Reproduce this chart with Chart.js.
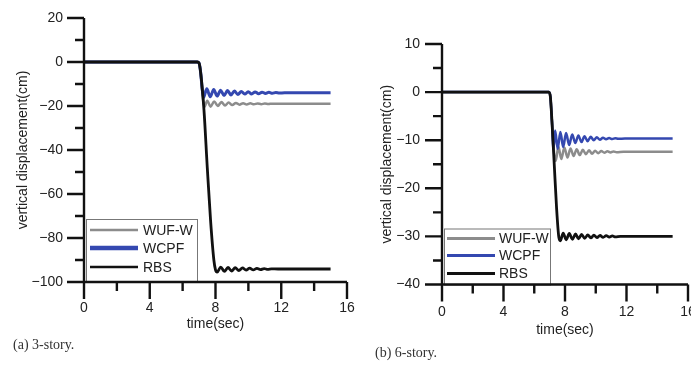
<!DOCTYPE html>
<html>
<head>
<meta charset="utf-8">
<script src="https://cdn.jsdelivr.net/npm/chart.js@4.4.1/dist/chart.umd.min.js"></script>
<style>
  body { margin: 0; background: #fff; width: 691px; height: 365px; position: relative; overflow: hidden; }
  canvas { position: absolute; top: 0; }
  #story3 { left: 0; }
  #story6 { left: 345px; }
  .caption { position: absolute; font-family: "Liberation Serif", serif; font-size: 14px; line-height: 14px; color: #333; white-space: nowrap; }
</style>
</head>
<body>
<canvas id="story3" width="380" height="365"></canvas>
<canvas id="story6" width="346" height="365"></canvas>
<div class="caption" style="left:13px; top:338px">(a) 3-story.</div>
<div class="caption" style="left:375px; top:346px">(b) 6-story.</div>
<script>
// series names, legend order
const seriesLabels = ["WUF-W", "WCPF", "RBS"];

// (a) 3-story, time in sec / vertical displacement in cm
const wufw3Time = [0, 6.9, 7.0, 7.1, 7.2, 7.32, 7.5, 7.7, 7.92, 8.14, 8.36, 8.58, 8.8, 9.02, 9.24, 9.46, 9.68, 9.9, 10.12, 10.34, 10.56, 10.78, 11.0, 11.22, 11.44, 11.8, 15.0];
const wufw3Disp = [0, 0, -0.5, -5, -14, -20.5, -17.6, -20.3, -17.9, -20, -18.2, -19.8, -18.4, -19.6, -18.6, -19.4, -18.7, -19.3, -18.8, -19.2, -18.85, -19.15, -18.9, -19.1, -18.95, -19, -19];
const wcpf3Time = [0, 6.9, 7.0, 7.1, 7.18, 7.27, 7.47, 7.68, 7.89, 8.1, 8.31, 8.52, 8.73, 8.94, 9.15, 9.36, 9.57, 9.78, 9.99, 10.2, 10.41, 10.62, 10.83, 11.04, 11.25, 11.46, 11.67, 11.88, 12.2, 15.0];
const wcpf3Disp = [0, 0, -0.5, -5, -11.5, -16.2, -12.2, -15.8, -12.5, -15.5, -12.8, -15.2, -13.0, -15.0, -13.2, -14.8, -13.4, -14.6, -13.5, -14.5, -13.6, -14.4, -13.7, -14.3, -13.8, -14.2, -13.9, -14.1, -14, -14];
const rbs3Time = [0, 6.9, 7.0, 7.1, 7.3, 7.5, 7.7, 7.9, 8.0, 8.1, 8.32, 8.54, 8.76, 8.98, 9.2, 9.42, 9.64, 9.86, 10.08, 10.3, 10.52, 10.74, 10.96, 11.18, 11.4, 11.8, 15.0];
const rbs3Disp = [0, 0, -0.5, -5, -22, -48, -72, -90, -94.5, -95.5, -93.2, -95.2, -93.4, -95, -93.5, -94.8, -93.6, -94.6, -93.7, -94.5, -93.8, -94.4, -93.9, -94.3, -94, -94.1, -94.1];

// (b) 6-story
const wufw6Time = [0, 6.95, 7.05, 7.15, 7.3, 7.4, 7.57, 7.76, 7.96, 8.16, 8.36, 8.56, 8.76, 8.96, 9.16, 9.36, 9.56, 9.76, 9.96, 10.16, 10.36, 10.56, 10.76, 10.96, 11.16, 11.36, 11.8, 15.0];
const wufw6Disp = [0, 0, -1, -6, -13, -14.3, -11.3, -13.9, -11.5, -13.6, -11.7, -13.3, -11.9, -13.1, -12.0, -12.9, -12.1, -12.8, -12.2, -12.7, -12.25, -12.6, -12.3, -12.55, -12.35, -12.5, -12.4, -12.4];
const wcpf6Time = [0, 6.95, 7.05, 7.15, 7.25, 7.36, 7.52, 7.7, 7.88, 8.07, 8.27, 8.47, 8.67, 8.87, 9.07, 9.27, 9.47, 9.67, 9.87, 10.07, 10.27, 10.47, 10.67, 10.87, 11.07, 11.27, 11.47, 11.9, 15.0];
const wcpf6Disp = [0, 0, -1, -6, -11.8, -8.0, -11.8, -8.3, -11.4, -8.5, -11.0, -8.8, -10.6, -9.0, -10.4, -9.2, -10.2, -9.3, -10.0, -9.4, -9.9, -9.5, -9.8, -9.55, -9.75, -9.6, -9.7, -9.65, -9.65];
const rbs6Time = [0, 6.95, 7.05, 7.15, 7.3, 7.45, 7.6, 7.7, 7.88, 8.08, 8.28, 8.48, 8.68, 8.88, 9.08, 9.28, 9.48, 9.68, 9.88, 10.08, 10.28, 10.48, 10.68, 10.88, 11.08, 11.28, 11.6, 12.0, 15.0];
const rbs6Disp = [0, 0, -1, -6, -15, -24, -30.2, -30.9, -29.3, -30.7, -29.4, -30.6, -29.5, -30.5, -29.6, -30.4, -29.7, -30.3, -29.75, -30.25, -29.8, -30.2, -29.85, -30.15, -29.9, -30.1, -30, -30, -30];

const seriesColors = ["#8c8c8c", "#3448b0", "#111111"];
const labelFont = { family: "'Liberation Sans', Arial, sans-serif", size: 14 };

const toPoints = (time, disp) => time.map((t, i) => ({ x: t, y: disp[i] }));

/**
 * Draws the left and bottom axis lines with long major and short minor ticks
 */
const axisFrame = {
  id: "axisFrame",
  afterDraw(chart, args, opts) {
    const { ctx } = chart;
    const xs = chart.scales.x;
    const ys = chart.scales.y;
    const left = xs.getPixelForValue(xs.min);
    const bottom = ys.getPixelForValue(ys.min);

    ctx.save();
    ctx.strokeStyle = "#111";
    ctx.lineWidth = 2.4;
    ctx.beginPath();
    ctx.moveTo(left, ys.getPixelForValue(ys.max));
    ctx.lineTo(left, bottom);
    ctx.lineTo(xs.getPixelForValue(xs.max), bottom);

    for (let k = 0; ys.min + k * opts.yMinor <= ys.max; k++) {
      const v = ys.min + k * opts.yMinor;
      const len = (v - ys.min) % opts.yMajor === 0 ? opts.majorLen : opts.minorLen;
      const py = ys.getPixelForValue(v);
      ctx.moveTo(left, py);
      ctx.lineTo(left - len, py);
    }
    for (let k = 0; xs.min + k * opts.xMinor <= xs.max; k++) {
      const v = xs.min + k * opts.xMinor;
      const len = v % opts.xMajor === 0 ? opts.majorLen : opts.minorLen;
      const px = xs.getPixelForValue(v);
      ctx.moveTo(px, bottom);
      ctx.lineTo(px, bottom + len);
    }
    ctx.stroke();
    ctx.restore();
  },
};

/**
 * Boxed legend sitting on the x axis, bottom left of the plot
 */
const boxLegend = {
  id: "boxLegend",
  afterDatasetsDraw(chart, args, opts) {
    const { ctx, chartArea } = chart;
    const left = chartArea.left + 2;
    const top = chartArea.bottom - opts.height;

    ctx.save();
    ctx.fillStyle = "#fff";
    ctx.fillRect(left, top, opts.width, opts.height);
    ctx.strokeStyle = "#777";
    ctx.lineWidth = 1;
    ctx.strokeRect(left + 0.5, top + 0.5, opts.width, opts.height);

    ctx.font = opts.fontSize + "px 'Liberation Sans', Arial, sans-serif";
    ctx.textBaseline = "middle";
    chart.data.datasets.forEach((ds, i) => {
      const y = top + opts.rows[i];
      ctx.strokeStyle = ds.borderColor;
      ctx.lineWidth = opts.lineWidths[i];
      ctx.beginPath();
      ctx.moveTo(left + opts.lineFrom, y);
      ctx.lineTo(left + opts.lineTo, y);
      ctx.stroke();
      ctx.fillStyle = "#222";
      ctx.fillText(ds.label, left + opts.textX, y + 1);
    });
    ctx.restore();
  },
};

const createDisplacementChart = (canvas, series, setup) => {
  return new Chart(canvas, {
    type: "line",
    data: {
      datasets: series.map((points, i) => ({
        label: seriesLabels[i],
        data: points,
        borderColor: seriesColors[i],
        borderWidth: setup.lineWidths[i],
        pointRadius: 0,
        fill: false,
        cubicInterpolationMode: "monotone",
        order: 2 - i,
      })),
    },
    options: {
      responsive: false,
      animation: false,
      layout: { padding: setup.padding },
      plugins: {
        legend: { display: false },
        tooltip: { enabled: false },
        boxLegend: setup.legend,
        axisFrame: setup.axis,
      },
      scales: {
        x: {
          type: "linear",
          min: 0,
          max: 16,
          ticks: { stepSize: 4, padding: setup.xTickPad, font: labelFont, color: "#222" },
          grid: { display: false, drawTicks: false },
          border: { display: false },
          title: {
            display: true,
            text: "time(sec)",
            font: labelFont,
            color: "#222",
            padding: { top: 0, bottom: setup.xTitlePad },
          },
          afterFit: (scale) => {
            scale.height = setup.xHeight;
            scale.paddingLeft = 0;
            scale.paddingRight = 0;
          },
        },
        y: {
          type: "linear",
          min: setup.yMin,
          max: setup.yMax,
          ticks: {
            stepSize: setup.yStep,
            padding: setup.yTickPad,
            font: labelFont,
            color: "#222",
            callback: (v) => String(v).replace("-", "\u2212"),
          },
          grid: { display: false, drawTicks: false },
          border: { display: false },
          title: {
            display: true,
            text: "vertical displacement(cm)",
            font: labelFont,
            color: "#222",
            padding: { top: setup.yTitlePad, bottom: 0 },
          },
          afterFit: (scale) => {
            scale.width = setup.yWidth;
            scale.paddingTop = 0;
            scale.paddingBottom = 0;
          },
        },
      },
    },
    plugins: [boxLegend, axisFrame],
  });
};

createDisplacementChart(
  document.getElementById("story3"),
  [toPoints(wufw3Time, wufw3Disp), toPoints(wcpf3Time, wcpf3Disp), toPoints(rbs3Time, rbs3Disp)],
  {
    yMin: -100, yMax: 20, yStep: 20,
    padding: { left: 0, top: 18, right: 33, bottom: 0 },
    yWidth: 84, xHeight: 83,
    xTickPad: 18, yTickPad: 21, xTitlePad: 32, yTitlePad: 15,
    lineWidths: [2.5, 3, 2.8],
    legend: { width: 111, height: 63, rows: [11, 29, 48], lineFrom: 4, lineTo: 52, textX: 57, fontSize: 14, lineWidths: [2.5, 4.5, 2.5] },
    axis: { yMajor: 20, yMinor: 10, xMajor: 4, xMinor: 2, majorLen: 17, minorLen: 9 },
  }
);

createDisplacementChart(
  document.getElementById("story6"),
  [toPoints(wufw6Time, wufw6Disp), toPoints(wcpf6Time, wcpf6Disp), toPoints(rbs6Time, rbs6Disp)],
  {
    yMin: -40, yMax: 10, yStep: 10,
    padding: { left: 0, top: 44, right: 3, bottom: 0 },
    yWidth: 97, xHeight: 80.5,
    xTickPad: 19, yTickPad: 22, xTitlePad: 26, yTitlePad: 34,
    lineWidths: [2.5, 2.5, 2.8],
    legend: { width: 106, height: 56, rows: [10, 27, 45], lineFrom: 3, lineTo: 51, textX: 55, fontSize: 14, lineWidths: [3, 3, 3] },
    axis: { yMajor: 10, yMinor: 5, xMajor: 4, xMinor: 2, majorLen: 17, minorLen: 9 },
  }
);
</script>
</body>
</html>
